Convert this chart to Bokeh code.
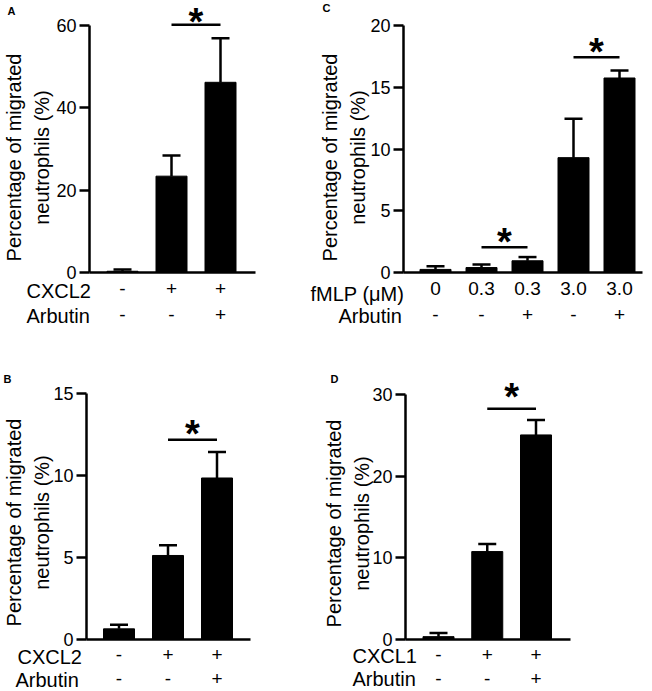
import math
from bokeh.plotting import figure
from bokeh.layouts import column, row
from bokeh.models import FixedTicker, Range1d
from bokeh.embed import file_html
from bokeh.resources import INLINE
from bokeh.core.properties import value

FONT = "Liberation Sans"

# ---------------- data ----------------
# Panel A
a_row1_name = "CXCL2"
a_row1 = ["-", "+", "+"]
a_arbutin = ["-", "-", "+"]
a_mean = [0.3, 23.4, 46.2]
a_sem = [0.4, 5.0, 10.7]
a_yticks = [0, 20, 40, 60]
a_sig = [(2, 3, 60.2)]

# Panel B
b_row1_name = "CXCL2"
b_row1 = ["-", "+", "+"]
b_arbutin = ["-", "-", "+"]
b_mean = [0.65, 5.13, 9.86]
b_sem = [0.25, 0.62, 1.59]
b_yticks = [0, 5, 10, 15]
b_sig = [(2, 3, 12.2)]

# Panel C
c_row1_name = "fMLP (μM)"
c_row1 = ["0", "0.3", "0.3", "3.0", "3.0"]
c_arbutin = ["-", "-", "+", "-", "+"]
c_mean = [0.25, 0.4, 0.95, 9.3, 15.75]
c_sem = [0.25, 0.25, 0.3, 3.15, 0.6]
c_yticks = [0, 5, 10, 15, 20]
c_sig = [(2, 3, 2.05), (4, 5, 17.43)]

# Panel D
d_row1_name = "CXCL1"
d_row1 = ["-", "+", "+"]
d_arbutin = ["-", "-", "+"]
d_mean = [0.35, 10.78, 25.08]
d_sem = [0.45, 0.94, 1.84]
d_yticks = [0, 10, 20, 30]
d_sig = [(2, 3, 28.3)]

ROW2_NAME = "Arbutin"
YLABEL = "Percentage of migrated\nneutrophils (%)"


def make_panel(letter, row1_name, row1, arbutin, mean, sem, yticks, sig, g):
    """g holds the pixel layout of the panel (page coordinates)."""
    n = len(mean)
    xs = list(range(1, n + 1))
    sp = g["sp"]

    def xd(px):
        return 1 + (px - g["c1"]) / sp

    ppu = (g["oy"] - g["ytop_py"]) / yticks[-1]
    x_lo, x_hi = xd(g["L"]), xd(g["L"] + g["W"])
    y_lo = (g["oy"] - (g["T"] + g["H"])) / ppu
    y_hi = (g["oy"] - g["T"]) / ppu
    ax_x = xd(g["ox"])

    p = figure(width=g["W"], height=g["H"], output_backend="svg",
               toolbar_location=None, x_range=Range1d(x_lo, x_hi),
               y_range=Range1d(y_lo, y_hi), min_border=0)
    p.outline_line_color = None
    p.xgrid.visible = False
    p.ygrid.visible = False
    p.background_fill_color = "white"
    p.border_fill_color = "white"

    bw = 31.0 / sp
    cap = 9.0 / sp
    tops = [m + s for m, s in zip(mean, sem)]
    p.vbar(x=xs, top=mean, width=bw, bottom=0, fill_color="black",
           line_color="black", line_width=1)
    p.segment(x0=xs, y0=mean, x1=xs, y1=tops, line_color="black",
              line_width=2.5)
    p.segment(x0=[x - cap for x in xs], y0=tops, x1=[x + cap for x in xs],
              y1=tops, line_color="black", line_width=2.5)

    for (i, j, y) in sig:
        p.segment(x0=[i], y0=[y], x1=[j], y1=[y], line_color="black",
                  line_width=2.5)
        p.text(x=[(i + j) / 2], y=[y], text=["*"], text_align="center",
               text_baseline="middle", text_font=value(FONT),
               text_font_style="bold", text_font_size="38px",
               text_color="black", y_offset=-(g["star_gap"] - 8.7))

    # y axis (drawn at the left end of the x axis)
    ya = p.yaxis[0]
    ya.fixed_location = ax_x
    ya.ticker = FixedTicker(ticks=yticks)
    ya.bounds = (0, yticks[-1])
    ya.axis_line_width = 2.5
    ya.major_tick_line_width = 2.5
    ya.major_tick_out = 10
    ya.major_tick_in = 0
    ya.minor_tick_out = 0
    ya.minor_tick_in = 0
    ya.major_label_standoff = 3
    ya.major_label_text_font = FONT
    ya.major_label_text_font_size = "18px"
    ya.major_label_text_color = "black"

    # x axis at y = 0, condition rows as tick labels
    xa = p.xaxis[0]
    xa.fixed_location = 0
    xa.bounds = (ax_x, xd(g["xend"]))
    xa.ticker = FixedTicker(ticks=xs)
    xa.major_label_overrides = {x: f"{r}\n{a}" for x, r, a in zip(xs, row1, arbutin)}
    xa.axis_line_width = 2.5
    xa.major_tick_out = 0
    xa.major_tick_in = 0
    xa.minor_tick_out = 0
    xa.minor_tick_in = 0
    xa.major_label_standoff = g["xl_standoff"]
    xa.major_label_text_font = FONT
    xa.major_label_text_font_size = "19px"
    xa.major_label_text_color = "black"
    xa.major_label_text_line_height = g["xl_lh"]

    # y axis title
    p.text(x=[ax_x], y=[0], text=[YLABEL], angle=math.pi / 2,
           x_offset=g["ylab_dx"], y_offset=-g["ylab_dy"], text_align="center",
           text_baseline="middle", text_line_height=1.3,
           text_font=value(FONT), text_font_size="20px", text_color="black")

    # row headers, left of the y axis
    for txt, dx, dy in ((row1_name, g["h1_dx"], g["r1_dy"]),
                        (ROW2_NAME, g["h2_dx"], g["r2_dy"])):
        p.text(x=[ax_x], y=[0], text=[txt], x_offset=dx, y_offset=dy,
               text_align="left", text_baseline="middle",
               text_font=value(FONT), text_font_size="20px",
               text_color="black")

    # panel letter
    p.text(x=[ax_x], y=[0], text=[letter], x_offset=g["let_dx"],
           y_offset=g["let_dy"], text_align="left", text_baseline="top",
           text_font=value(FONT), text_font_size="11px",
           text_font_style="bold", text_color="black")
    return p


gA = dict(L=0, T=0, W=308, H=345, ox=89, oy=272, ytop_py=25, c1=122, sp=49,
          xend=255, star_gap=11, ylab_dx=-61.5, ylab_dy=115,
          h1_dx=-63, h2_dx=-63, r1_dy=18.5, r2_dy=43,
          xl_standoff=5, xl_lh=1.25, let_dx=-82, let_dy=-268)
gC = dict(L=308, T=0, W=342, H=345, ox=403, oy=272, ytop_py=25, c1=435,
          sp=46, xend=642, star_gap=13.5, ylab_dx=-59.5, ylab_dy=115,
          h1_dx=-93, h2_dx=-65, r1_dy=21, r2_dy=43,
          xl_standoff=5, xl_lh=1.25, let_dx=-81, let_dy=-271)
gB = dict(L=0, T=345, W=308, H=346, ox=86, oy=639, ytop_py=393.3, c1=118.5,
          sp=49, xend=250, star_gap=14, ylab_dx=-58.5, ylab_dy=117,
          h1_dx=-69, h2_dx=-71, r1_dy=17.5, r2_dy=40,
          xl_standoff=4, xl_lh=1.15, let_dx=-83, let_dy=-267)
gD = dict(L=308, T=345, W=342, H=346, ox=405, oy=639, ytop_py=394.3, c1=438,
          sp=48.75, xend=570, star_gap=20, ylab_dx=-57.5, ylab_dy=116,
          h1_dx=-53, h2_dx=-53, r1_dy=16, r2_dy=39,
          xl_standoff=4, xl_lh=1.15, let_dx=-75, let_dy=-267)

pA = make_panel("A", a_row1_name, a_row1, a_arbutin, a_mean, a_sem, a_yticks, a_sig, gA)
pC = make_panel("C", c_row1_name, c_row1, c_arbutin, c_mean, c_sem, c_yticks, c_sig, gC)
pB = make_panel("B", b_row1_name, b_row1, b_arbutin, b_mean, b_sem, b_yticks, b_sig, gB)
pD = make_panel("D", d_row1_name, d_row1, d_arbutin, d_mean, d_sem, d_yticks, d_sig, gD)

layout = column(row(pA, pC), row(pB, pD))

open("out.html", "w").write(file_html(layout, INLINE))
